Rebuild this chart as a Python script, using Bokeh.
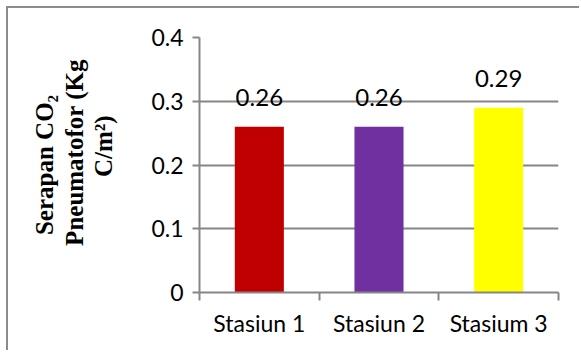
from bokeh.plotting import figure
from bokeh.models import ColumnDataSource, FixedTicker, Range1d
from bokeh.embed import file_html
from bokeh.resources import INLINE
from bokeh.core.properties import value

# Data
categories = ["Stasiun 1", "Stasiun 2", "Stasium 3"]
serapan = [0.26, 0.26, 0.29]
bar_colors = ["#C00000", "#7030A0", "#FFFF00"]
y_ticks = [0, 0.1, 0.2, 0.3, 0.4]
y_tick_labels = ["0", "0.1", "0.2", "0.3", "0.4"]
y_title_lines = ["Serapan CO\u2082", "Pneumatofor  (Kg", "C/m\u00b2)"]

centers = [i + 0.5 for i in range(len(categories))]
bounds = [float(i) for i in range(len(categories) + 1)]

src = ColumnDataSource(dict(
    x=centers, top=serapan, color=bar_colors,
    label=[f"{v:.2f}" for v in serapan],
))

GRID = "#868686"
TICK_FONT = "Lato"
NBSP = "\u00a0"

p = figure(
    width=573, height=344,
    frame_width=359, frame_height=255,
    min_border_left=191, min_border_right=23,
    min_border_top=29, min_border_bottom=60,
    x_range=Range1d(0, len(categories)),
    y_range=Range1d(0, 0.4),
    output_backend="svg", toolbar_location=None,
)
# chart-area frame: thin grey rule on the top and left edges
p.margin = (8, 0, 0, 8)
p.styles = {"box-shadow": "-2px -2px 0 0 #8c8c8c"}

p.outline_line_color = None
p.background_fill_color = "white"
p.border_fill_color = "white"

p.vbar(x="x", top="top", bottom=0, width=0.41, color="color",
       line_color=None, source=src)

p.text(x="x", y="top", text="label", source=src,
       text_align="center", text_baseline="alphabetic", y_offset=-29,
       text_font=value(TICK_FONT), text_font_size="24px", text_color="black")

# y axis
p.yaxis.ticker = FixedTicker(ticks=y_ticks)
p.yaxis.major_label_overrides = {t: l for t, l in zip(y_ticks, y_tick_labels)}
p.yaxis.minor_tick_line_color = None
p.yaxis.major_tick_out = 7
p.yaxis.major_tick_in = 0
p.yaxis.major_tick_line_color = GRID
p.yaxis.major_tick_line_width = 2
p.yaxis.axis_line_color = GRID
p.yaxis.axis_line_width = 2
p.yaxis.major_label_standoff = 9
p.yaxis.major_label_text_font = TICK_FONT
p.yaxis.major_label_text_font_size = "23px"
p.yaxis.major_label_text_color = "black"

# three-line y title, centred line by line; leading no-break spaces lift
# the lower two lines slightly above the middle of the axis
lift = [0, 5, 6]
p.yaxis.axis_label = "\n".join(NBSP * n + line for n, line in zip(lift, y_title_lines))
p.yaxis.axis_label_text_font = "Liberation Serif"
p.yaxis.axis_label_text_font_style = "bold"
p.yaxis.axis_label_text_font_size = "25px"
p.yaxis.axis_label_text_line_height = 1.1
p.yaxis.axis_label_text_color = "black"
p.yaxis.axis_label_standoff = 31

# x axis: labels at the bar centres, tick marks on category boundaries
p.xaxis.ticker = FixedTicker(ticks=centers, minor_ticks=bounds)
p.xaxis.major_label_overrides = {c: n for c, n in zip(centers, categories)}
p.xaxis.major_tick_line_color = None
p.xaxis.major_tick_out = 0
p.xaxis.major_tick_in = 0
p.xaxis.minor_tick_out = 8
p.xaxis.minor_tick_in = 0
p.xaxis.minor_tick_line_color = GRID
p.xaxis.minor_tick_line_width = 2
p.xaxis.axis_line_color = GRID
p.xaxis.axis_line_width = 2
p.xaxis.major_label_standoff = 8
p.xaxis.major_label_text_font = TICK_FONT
p.xaxis.major_label_text_font_size = "23px"
p.xaxis.major_label_text_color = "black"

p.xgrid.grid_line_color = None
p.ygrid.ticker = FixedTicker(ticks=y_ticks)
p.ygrid.grid_line_color = GRID
p.ygrid.grid_line_width = 2

open("out.html", "w").write(file_html(p, INLINE))
